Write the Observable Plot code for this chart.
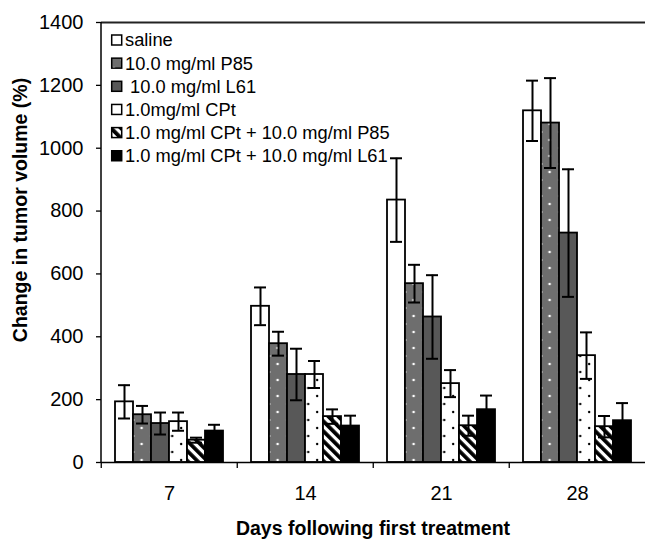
<!DOCTYPE html>
<html><head><meta charset="utf-8">
<script src="https://cdn.jsdelivr.net/npm/d3@7"></script>
<script src="https://cdn.jsdelivr.net/npm/@observablehq/plot@0.6"></script>
<style>
body{margin:0;background:#fff;}
#chart{width:647px;height:544px;}
</style></head><body><div id="chart"></div>
<script>
// ---- data ----
const days = ["7", "14", "21", "28"];
const series = ["saline", "10.0 mg/ml P85", " 10.0 mg/ml L61", "1.0mg/ml CPt",
  "1.0 mg/ml CPt + 10.0 mg/ml P85", "1.0 mg/ml CPt + 10.0 mg/ml L61"];
const salineMean = [193, 497, 835, 1119];
const salineErr  = [53, 60, 133, 96];
const p85Mean    = [152, 378, 569, 1080];
const p85Err     = [28, 38, 60, 143];
const l61Mean    = [124, 280, 463, 730];
const l61Err     = [35, 82, 133, 203];
const cptMean    = [130, 280, 251, 340];
const cptErr     = [29, 43, 43, 74];
const cptP85Mean = [71, 146, 117, 114];
const cptP85Err  = [8, 23, 32, 34];
const cptL61Mean = [100, 116, 168, 133];
const cptL61Err  = [20, 33, 45, 56];
const yTicks = [0, 200, 400, 600, 800, 1000, 1200, 1400];
const xTitle = "Days following first treatment";
const yTitle = "Change in tumor volume (%)";

const means = [salineMean, p85Mean, l61Mean, cptMean, cptP85Mean, cptL61Mean];
const errs = [salineErr, p85Err, l61Err, cptErr, cptP85Err, cptL61Err];
const fills = ["white", "url(#dotsWhite)", "#585858", "url(#dotsBlack)", "url(#stripes)", "black"];

const data = [];
days.forEach((d, di) => series.forEach((s, si) => data.push({
  day: d, series: s, mean: means[si][di], err: errs[si][di], fill: fills[si]
})));

const W = 647, H = 544, ML = 100, MR = 1;
const bw = (W - ML - MR) / days.length;
const font = "'Liberation Sans', Arial, sans-serif";

const svg = Plot.plot({
  width: W, height: H,
  marginLeft: ML, marginRight: MR, marginTop: 22, marginBottom: 82,
  style: {fontFamily: font, fontSize: "20px", color: "#000", background: "white", overflow: "visible"},
  fx: {domain: days, padding: 0, label: null},
  x: {domain: series, paddingInner: 0, paddingOuter: 0.72, axis: null},
  y: {domain: [0, 1400], label: null},
  color: {type: "identity"},
  marks: [
    Plot.axisY({ticks: yTicks, tickFormat: d => String(d), tickSize: 5, tickPadding: 13, label: null, strokeWidth: 1.3}),
    Plot.axisFx({anchor: "bottom", tickSize: 0, tickPadding: 23, label: null}),
    Plot.axisFx({anchor: "bottom", tickSize: 6, tickFormat: () => "", label: null, dx: -bw / 2, strokeWidth: 1.3}),
    Plot.barY(data, {fx: "day", x: "series", y: "mean", fill: "fill", stroke: "black", strokeWidth: 1.8, insetLeft: 0, insetRight: 0}),
    Plot.ruleX(data, {fx: "day", x: "series", y1: d => d.mean - d.err, y2: d => d.mean + d.err, stroke: "black", strokeWidth: 2}),
    Plot.tickY(data, {fx: "day", x: "series", y: d => d.mean + d.err, stroke: "black", strokeWidth: 2, insetLeft: 3, insetRight: 3}),
    Plot.tickY(data, {fx: "day", x: "series", y: d => d.mean - d.err, stroke: "black", strokeWidth: 2, insetLeft: 3, insetRight: 3}),
    Plot.ruleY([0], {stroke: "black", strokeWidth: 1.5}),
    Plot.ruleY([1400], {stroke: "#222", strokeWidth: 2})
  ]
});

// pattern definitions
const s = d3.select(svg);
const defs = s.insert("defs", ":first-child");
const pw = defs.append("pattern").attr("id", "dotsWhite").attr("patternUnits", "userSpaceOnUse")
  .attr("width", 18.3).attr("height", 16);
pw.append("rect").attr("width", 18.3).attr("height", 16).attr("fill", "#6e6e6e");
pw.append("circle").attr("cx", 4).attr("cy", 4).attr("r", 1.3).attr("fill", "#fff");
pw.append("circle").attr("cx", 12.5).attr("cy", 12).attr("r", 1.3).attr("fill", "#fff");
const pb = defs.append("pattern").attr("id", "dotsBlack").attr("patternUnits", "userSpaceOnUse")
  .attr("width", 18.3).attr("height", 16);
pb.append("rect").attr("width", 18.3).attr("height", 16).attr("fill", "#fff");
pb.append("circle").attr("cx", 6.5).attr("cy", 4).attr("r", 1.2).attr("fill", "#000");
pb.append("circle").attr("cx", 15.5).attr("cy", 12).attr("r", 1.2).attr("fill", "#000");
const ps = defs.append("pattern").attr("id", "stripes").attr("patternUnits", "userSpaceOnUse")
  .attr("width", 7).attr("height", 7).attr("patternTransform", "rotate(-45)");
ps.append("rect").attr("width", 7).attr("height", 7).attr("fill", "#fff");
ps.append("rect").attr("width", 3.8).attr("height", 7).attr("fill", "#000");

// y axis line, using the plot's scales
const y = svg.scale("y");
const fx = svg.scale("fx");
const y0 = y.apply(0), y1 = y.apply(1400);
const xLeft = fx.apply(days[0]);
s.append("line").attr("x1", xLeft).attr("x2", xLeft).attr("y1", y0).attr("y2", y1)
  .attr("stroke", "black").attr("stroke-width", 1.5);

// titles
s.append("text").attr("transform", `translate(${ML + (W - ML - MR) / 2},535)`)
  .attr("text-anchor", "middle").attr("font-family", font).attr("font-weight", "bold")
  .attr("font-size", 19.5).text(xTitle);
s.append("text").attr("transform", `translate(27,210) rotate(-90)`)
  .attr("text-anchor", "middle").attr("font-family", font).attr("font-weight", "bold")
  .attr("font-size", 19.5).text(yTitle);

// legend
const lg = s.append("g").attr("font-family", font).attr("font-size", 18.3).attr("text-anchor", "start");
series.forEach((name, i) => {
  const cy = 40 + i * 23.15;
  lg.append("rect").attr("x", 111.7).attr("y", cy - 5).attr("width", 10).attr("height", 10)
    .attr("fill", fills[i]).attr("stroke", "black").attr("stroke-width", 1.5);
  lg.append("text").attr("x", 125).attr("y", cy).attr("dy", "0.35em").attr("text-anchor", "start")
    .style("white-space", "pre").text(name);
});

document.getElementById("chart").appendChild(svg);
</script></body></html>
